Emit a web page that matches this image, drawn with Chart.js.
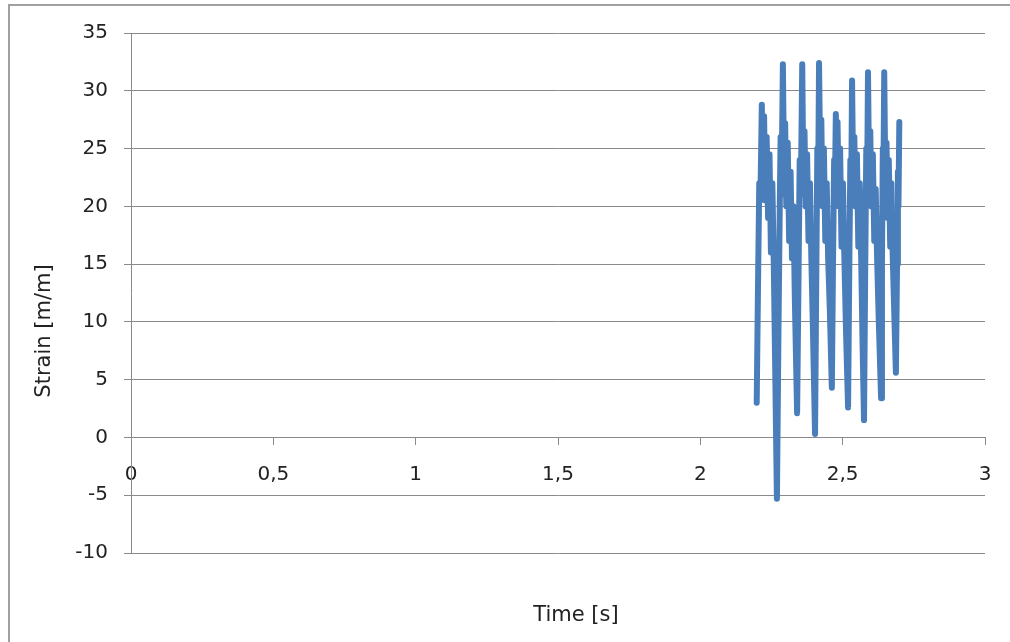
<!DOCTYPE html>
<html>
<head>
<meta charset="utf-8">
<script src="https://cdn.jsdelivr.net/npm/chart.js@4"></script>
<style>
  body { margin: 0; background: #fff; }
  #wrap { width: 1010px; height: 642px; }
</style>
</head>
<body>
<div id="wrap"><canvas id="myChart" width="1010" height="642"></canvas></div>
<script>
// time [s] and strain [m/m]
var times = [2.198,2.203,2.207,2.211,2.216,
  2.220,2.224,2.228,2.233,2.238,2.243,2.248,2.253,2.258,2.263,2.269,
  2.274,2.279,2.282,2.285,2.290,
  2.294,2.298,2.302,2.307,2.312,2.317,2.322,2.327,2.332,2.340,
  2.345,2.349,2.353,2.358,
  2.362,2.366,2.370,2.375,2.380,2.385,2.390,2.395,2.403,
  2.407,2.411,2.414,2.417,
  2.421,2.425,2.429,2.434,2.439,2.444,2.449,2.455,2.462,
  2.466,2.470,2.473,2.476,
  2.479,2.482,2.486,2.491,2.496,2.501,2.506,2.512,2.519,
  2.523,2.527,2.530,2.533,
  2.537,2.541,2.545,2.550,2.555,2.560,2.565,2.570,2.575,
  2.579,2.583,2.586,2.589,
  2.593,2.597,2.601,2.606,2.611,2.616,2.621,2.627,2.635,
  2.638,2.641,2.643,2.646,
  2.650,2.654,2.658,2.662,2.667,2.671,2.676,2.681,2.687,
  2.691,2.694,2.696,2.699];
var strain = [3.0,14,22,20.5,28.8,
  21,27.8,20.5,26,19,24.5,16,22,15,6,-5.3,
  8,20,26,21,32.3,
  23,27.2,20,25.5,17,23,15.5,20,12,2.1,
  14,24,21,32.3,
  22,26.5,20,24.5,17,22,15.5,10,0.3,
  13,25,22,32.4,
  24,27.5,20,25,17,22,15.5,11,4.3,
  15,24,22,28,
  23,27.3,20,25,16.5,22,15.5,9,2.6,
  14,24,21,30.9,
  22,26,20,24.5,16.5,22,15.5,8,1.5,
  14,25,22,31.6,
  22,26.5,20,24.5,17,21.5,15.5,10,3.4,
  15,25,22,31.6,
  22,25.5,19,24,16.5,22,15.5,11,5.6,
  15,23,20,27.3];
var xTicks = [0, 0.5, 1, 1.5, 2, 2.5, 3];
var yTicks = [-10, -5, 0, 5, 10, 15, 20, 25, 30, 35];
var xTitle = "Time [s]";
var yTitle = "Strain [m/m]";

var points = times.map(function (t, i) { return {x: t, y: strain[i]}; });
var fontFam = "'DejaVu Sans', sans-serif";

// outer frame and axis titles
var extras = {
  id: "extras",
  beforeDraw: function (chart) {
    var ctx = chart.ctx;
    ctx.save();
    ctx.fillStyle = "#fff";
    ctx.fillRect(0, 0, chart.width, chart.height);
    ctx.strokeStyle = "#a0a0a0";
    ctx.lineWidth = 2;
    ctx.strokeRect(9, 5, 1010, 700);
    ctx.restore();
  },
  afterDraw: function (chart) {
    var ctx = chart.ctx;
    ctx.save();
    ctx.fillStyle = "#222";
    ctx.font = "21px " + fontFam;
    ctx.textAlign = "center";
    ctx.textBaseline = "middle";
    ctx.fillText(xTitle, 576, 616);
    ctx.translate(45, 331);
    ctx.rotate(-Math.PI / 2);
    ctx.fillText(yTitle, 0, 0);
    ctx.restore();
  }
};

new Chart("myChart", {
  type: "scatter",
  data: {
    datasets: [{
      data: points,
      showLine: true,
      borderColor: "#4a7ebb",
      backgroundColor: "#4a7ebb",
      borderWidth: 6,
      borderJoinStyle: "round",
      borderCapStyle: "round",
      pointRadius: 0,
      tension: 0
    }]
  },
  options: {
    responsive: false,
    animation: false,
    layout: {padding: {left: 0, right: 25, top: 33, bottom: 89}},
    plugins: {legend: {display: false}, tooltip: {enabled: false}},
    scales: {
      x: {
        type: "linear",
        position: {y: 0},
        min: 0, max: 3,
        afterBuildTicks: function (s) { s.ticks = xTicks.map(function (v) { return {value: v}; }); },
        ticks: {
          color: "#222",
          font: {family: fontFam, size: 20},
          padding: 18,
          maxRotation: 0,
          callback: function (v) { return String(v).replace(".", ","); }
        },
        grid: {drawOnChartArea: false, drawTicks: true, tickLength: 7, color: "#8a8a8a"},
        border: {display: true, color: "#8a8a8a", width: 1}
      },
      y: {
        type: "linear",
        position: "left",
        min: -10, max: 35,
        afterBuildTicks: function (s) { s.ticks = yTicks.map(function (v) { return {value: v}; }); },
        afterFit: function (s) { s.width = 131; },
        ticks: {
          color: "#222",
          font: {family: fontFam, size: 20},
          padding: 16
        },
        grid: {color: "#8a8a8a", tickLength: 7},
        border: {display: true, color: "#8a8a8a", width: 1}
      }
    }
  },
  plugins: [extras]
});
</script>
</body>
</html>
